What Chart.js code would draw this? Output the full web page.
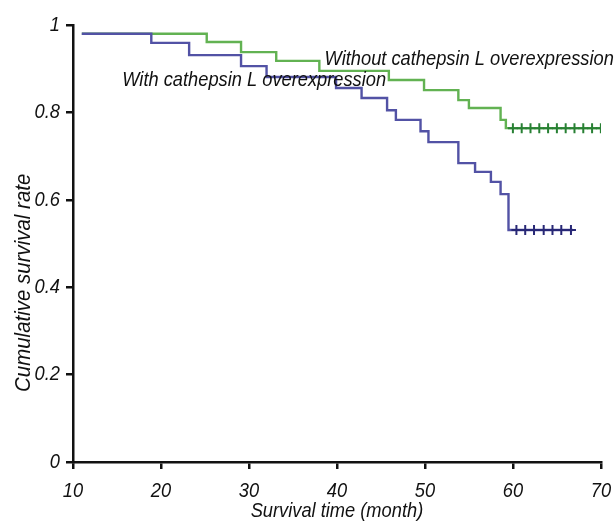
<!DOCTYPE html>
<html>
<head>
<meta charset="utf-8">
<script src="https://cdn.jsdelivr.net/npm/chart.js@4"></script>
<style>
  html, body { margin: 0; padding: 0; background: #fff; }
  #wrap { width: 615px; height: 521px; position: relative; }
</style>
</head>
<body>
<div id="wrap"><canvas id="km"></canvas></div>
<script>
// Kaplan-Meier curves (time in months, survival rate)
const withoutTimes = [11, 25.2, 29.1, 33.1, 38.0, 45.9, 49.9, 53.8, 55.0, 58.6, 59.2, 70];
const withoutRates = [0.98, 0.961, 0.938, 0.918, 0.895, 0.874, 0.851, 0.828, 0.810, 0.783, 0.764, 0.764];
const withoutCensored = [60, 61, 62, 63, 64, 65, 66, 67, 68, 69, 70];

const withTimes = [11, 18.9, 23.2, 29.1, 32.0, 39.9, 42.8, 45.7, 46.7, 49.5, 50.4, 53.8, 55.7, 57.5, 58.6, 59.5, 66.8];
const withRates = [0.98, 0.959, 0.931, 0.906, 0.881, 0.856, 0.833, 0.805, 0.783, 0.757, 0.732, 0.684, 0.664, 0.641, 0.613, 0.531, 0.531];
const withCensored = [60.4, 61.4, 62.4, 63.5, 64.5, 65.5, 66.6];

const xTickLabels = ['10', '20', '30', '40', '50', '60', '70'];
const yTickLabels = ['0', '0.2', '0.4', '0.6', '0.8', '1'];

const seriesNames = ['Without cathepsin L overexpression', 'With cathepsin L overexpression'];
const xTitle = 'Survival time (month)';
const yTitle = 'Cumulative survival rate';

const FONT = '"Liberation Sans", Arial, sans-serif';
const SQUEEZE = 0.87; // the original uses a condensed face

function toPoints(xs, ys) {
    return xs.map((x, i) => ({ x: x, y: ys[i] }));
}

// censor marks sit on the last level of each curve
function censorPoints(xs, level) {
    return xs.map(x => ({ x: x, y: level }));
}

const greenLine = 'rgb(98, 178, 82)';
const greenMark = 'rgb(40, 128, 52)';
const blueLine = 'rgb(82, 82, 165)';
const blueMark = 'rgb(40, 40, 118)';

// condensed text: squeeze horizontally around the anchor
function squeezedText(ctx, text, x, y, align, squeeze) {
    ctx.save();
    ctx.translate(x, y);
    ctx.scale(squeeze || SQUEEZE, 1);
    ctx.textAlign = align;
    ctx.fillText(text, 0, 0);
    ctx.restore();
}

// tick labels, axis titles and curve labels
const labelsPlugin = {
    id: 'kmLabels',
    afterDraw(chart) {
        const ctx = chart.ctx;
        const xs = chart.scales.x;
        const ys = chart.scales.y;
        const area = chart.chartArea;
        ctx.save();
        ctx.fillStyle = '#111';
        ctx.font = 'italic 21px ' + FONT;
        ctx.textBaseline = 'middle';

        xs.ticks.forEach((t, i) => {
            squeezedText(ctx, xTickLabels[i], xs.getPixelForValue(t.value), area.bottom + 29, 'center');
        });
        ys.ticks.forEach((t, i) => {
            squeezedText(ctx, yTickLabels[i], area.left - 13, ys.getPixelForValue(t.value), 'right');
        });

        squeezedText(ctx, seriesNames[0], xs.getPixelForValue(38.6), ys.getPixelForValue(0.922), 'left');
        squeezedText(ctx, seriesNames[1], xs.getPixelForValue(15.6), ys.getPixelForValue(0.874), 'left');

        squeezedText(ctx, xTitle, (area.left + area.right) / 2, 511, 'center');

        ctx.font = 'italic 22px ' + FONT;
        ctx.translate(24, ys.getPixelForValue(0.41));
        ctx.rotate(-Math.PI / 2);
        squeezedText(ctx, yTitle, 0, 0, 'center', 0.93);
        ctx.restore();
    }
};

const ctx = document.getElementById('km').getContext('2d');

new Chart(ctx, {
    type: 'line',
    data: {
        datasets: [
            {
                label: seriesNames[0],
                data: toPoints(withoutTimes, withoutRates),
                borderColor: greenLine,
                borderWidth: 2.4,
                stepped: 'before',
                pointRadius: 0,
                fill: false,
                order: 3
            },
            {
                label: seriesNames[1],
                data: toPoints(withTimes, withRates),
                borderColor: blueLine,
                borderWidth: 2.4,
                stepped: 'before',
                pointRadius: 0,
                fill: false,
                order: 2
            },
            {
                label: 'censored (without)',
                data: censorPoints(withoutCensored, withoutRates[withoutRates.length - 1]),
                showLine: false,
                pointStyle: 'cross',
                pointRadius: 5,
                pointBorderWidth: 2,
                pointBorderColor: greenMark,
                order: 1
            },
            {
                label: 'censored (with)',
                data: censorPoints(withCensored, withRates[withRates.length - 1]),
                showLine: false,
                pointStyle: 'cross',
                pointRadius: 5,
                pointBorderWidth: 2,
                pointBorderColor: blueMark,
                order: 0
            }
        ]
    },
    options: {
        responsive: true,
        maintainAspectRatio: false,
        animation: false,
        layout: {
            padding: { top: 25, right: 12, left: 0, bottom: 0 }
        },
        plugins: {
            legend: { display: false },
            tooltip: { enabled: false }
        },
        scales: {
            x: {
                type: 'linear',
                min: 10,
                max: 70,
                afterFit: (scale) => { scale.height = 59; },
                border: { color: '#111', width: 2.5 },
                grid: {
                    drawOnChartArea: false,
                    drawTicks: true,
                    tickLength: 7,
                    color: '#111',
                    lineWidth: 2.5
                },
                ticks: {
                    stepSize: 10,
                    color: 'rgba(0,0,0,0)',
                    font: { family: FONT, size: 20, style: 'italic' },
                    callback: (v) => xTickLabels[Math.round((v - 10) / 10)]
                }
            },
            y: {
                min: 0,
                max: 1,
                afterFit: (scale) => { scale.width = 73; },
                border: { color: '#111', width: 2.5 },
                grid: {
                    drawOnChartArea: false,
                    drawTicks: true,
                    tickLength: 7,
                    color: '#111',
                    lineWidth: 2.5
                },
                ticks: {
                    stepSize: 0.2,
                    color: 'rgba(0,0,0,0)',
                    font: { family: FONT, size: 20, style: 'italic' },
                    callback: (v) => yTickLabels[Math.round(v / 0.2)]
                }
            }
        }
    },
    plugins: [labelsPlugin]
});
</script>
</body>
</html>
